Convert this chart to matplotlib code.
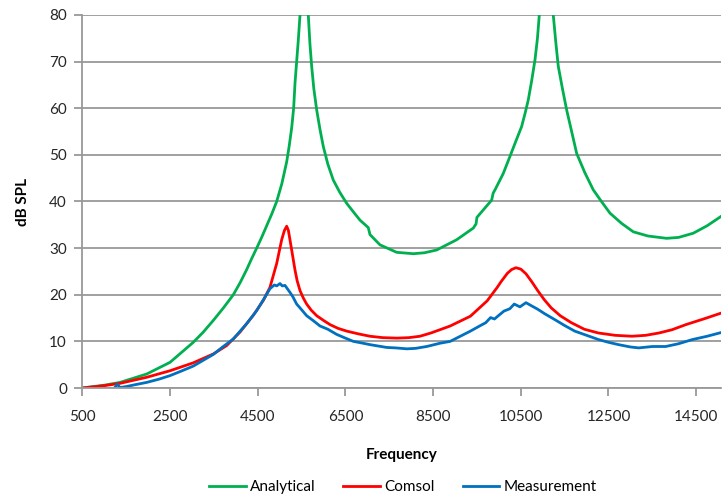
import matplotlib
matplotlib.use("Agg")
import matplotlib.pyplot as plt

plt.rcParams['font.family'] = ['Lato', 'DejaVu Sans']

# Analytical (green); the two resonance peaks run off the top
freq_analytical = [500, 1000, 1360, 1969, 2500, 3031, 3260, 3488, 3720, 3944, 4100, 4249,
                   4360, 4477, 4590, 4705, 4820, 4933, 5050, 5161, 5220, 5275, 5320,
                   5351, 5426, 5465, 5560, 5654, 5690, 5731, 5780, 5846, 5920, 5996,
                   6100, 6224, 6370, 6530, 6680, 6833, 7022, 7061, 7289, 7670, 8049,
                   8300, 8582, 9038, 9417, 9480, 9500, 9836, 9870, 9912, 10100, 10254,
                   10390, 10520, 10600, 10671, 10750, 10824, 10880, 10922, 11080,
                   11241, 11300, 11355, 11450, 11547, 11660, 11775, 11960, 12153,
                   12340, 12534, 12800, 13066, 13400, 13827, 14100, 14434, 14750, 15082]
spl_analytical = [0, 0.6, 1.2, 3.0, 5.5, 9.8, 12, 14.5, 17.2, 20, 22.6, 25.4,
                  27.7, 30.0, 32.3, 34.8, 37.3, 40.0, 43.8, 48.5, 52.0, 55.8, 60,
                  65.4, 74.6, 80, 300, 80, 74, 69, 64.2, 59.6, 55.5, 51.8,
                  48, 44.6, 42, 39.6, 37.8, 36, 34.4, 32.9, 30.7, 29.1, 28.8,
                  29.0, 29.6, 31.8, 34.3, 35.2, 36.6, 40.3, 41.8, 42.5, 46, 49.7,
                  53, 56.1, 59, 61.8, 66, 70.4, 75, 80, 300,
                  80, 74, 69, 64.2, 59.6, 55, 50.3, 46.2, 42.5,
                  40, 37.5, 35.3, 33.5, 32.6, 32.1, 32.3, 33.2, 34.8, 36.9]

# Comsol (red)
freq_comsol = [500, 1000, 1360, 1969, 2500, 3031, 3488, 3792, 4097, 4401, 4629, 4780,
               4933, 5047, 5110, 5161, 5200, 5275, 5351, 5400, 5465, 5540, 5617, 5720,
               5846, 6000, 6149, 6330, 6530, 6800, 7061, 7350, 7670, 7950, 8201, 8450,
               8657, 8890, 9351, 9734, 9964, 10050, 10194, 10290, 10388, 10500, 10618,
               10750, 10885, 11030, 11193, 11400, 11654, 11950, 12269, 12650, 13035,
               13350, 13651, 13950, 14267, 14700, 15111]
spl_comsol = [0, 0.5, 1.0, 2.3, 3.7, 5.4, 7.3, 9.1, 12.0, 15.6, 18.8, 21.6,
              26.7, 31.8, 33.8, 34.7, 33.8, 29.6, 25.3, 23, 20.9, 19.3, 18, 16.7,
              15.5, 14.5, 13.6, 12.8, 12.2, 11.6, 11.1, 10.8, 10.7, 10.8, 11.1, 11.8,
              12.5, 13.3, 15.4, 18.7, 21.6, 22.8, 24.6, 25.4, 25.8, 25.5, 24.5,
              22.8, 20.9, 19, 17.2, 15.5, 14, 12.6, 11.8, 11.3, 11.1,
              11.3, 11.8, 12.5, 13.6, 14.9, 16.2]

# Measurement (blue)
freq_measured = [1250, 1300, 1360, 1500, 1700, 1969, 2250, 2500, 2750, 3031, 3250, 3488,
                 3700, 3944, 4100, 4249, 4477, 4667, 4780, 4880, 4933, 5009, 5060, 5123,
                 5237, 5300, 5389, 5500, 5617, 5760, 5921, 6100, 6301, 6500, 6681,
                 6850, 7061, 7250, 7442, 7650, 7898, 8100, 8354, 8657, 8890, 9100,
                 9351, 9600, 9700, 9811, 9900, 10000, 10117, 10250, 10350, 10480,
                 10618, 10750, 10885, 11050, 11270, 11500, 11731, 12000, 12269,
                 12500, 12730, 13000, 13190, 13500, 13804, 14100, 14417, 14750, 15111]
spl_measured = [0.2, 0.8, 0.1, 0.3, 0.7, 1.2, 1.9, 2.65, 3.6, 4.7, 5.9, 7.2,
                8.8, 10.5, 12.2, 13.8, 16.6, 19.5, 21.3, 22.1, 21.9, 22.4, 21.9, 22.0,
                20.5, 19.6, 18, 16.8, 15.5, 14.5, 13.3, 12.6, 11.5, 10.7, 10,
                9.7, 9.3, 9.0, 8.7, 8.6, 8.4, 8.5, 8.9, 9.6, 10, 11.0,
                12.2, 13.5, 14.0, 15.1, 14.8, 15.6, 16.5, 17.0, 18.0, 17.4,
                18.3, 17.6, 16.9, 15.9, 14.7, 13.4, 12.2, 11.3, 10.4,
                9.8, 9.3, 8.8, 8.6, 8.9, 8.9, 9.5, 10.4, 11.1, 12]

x_ticks = [500, 2500, 4500, 6500, 8500, 10500, 12500, 14500]
y_ticks = [0, 10, 20, 30, 40, 50, 60, 70, 80]

fig = plt.figure(figsize=(7.25, 4.99), dpi=100)
ax = fig.add_axes([82.3 / 725, 1 - 388 / 499, (721 - 82.3) / 725, (388 - 15) / 499])

ax.plot(freq_analytical, spl_analytical, color="#00B050", lw=2.0, label="Analytical")
ax.plot(freq_comsol, spl_comsol, color="#FF0000", lw=2.0, label="Comsol")
ax.plot(freq_measured, spl_measured, color="#0070C0", lw=2.0, label="Measurement")

ax.set_xlim(500, 15066)
ax.set_ylim(0, 80)
ax.set_xticks(x_ticks)
ax.set_yticks(y_ticks)
ax.yaxis.grid(True, color="#999999", lw=1.3)
ax.set_axisbelow(True)

for side in ["top", "right"]:
    ax.spines[side].set_visible(False)
for side in ["left", "bottom"]:
    ax.spines[side].set_color("#999999")
    ax.spines[side].set_linewidth(1.3)
ax.tick_params(axis="both", color="#999999", width=1.3, length=6,
               labelsize=11, labelcolor="#262626")
ax.tick_params(axis="x", pad=10)
ax.tick_params(axis="y", pad=5)

ax.set_xlabel("Frequency", fontsize=11, fontweight="bold", color="#000000", labelpad=17)
ax.set_ylabel("dB SPL", fontsize=11, fontweight="bold", color="#000000", labelpad=14)

fig.legend(loc="center", bbox_to_anchor=(403 / 725, 1 - 487 / 499), ncol=3,
           frameon=False, fontsize=11, handlelength=2.4, handletextpad=0.3,
           columnspacing=1.8)

fig.savefig("out.png", dpi=100)
